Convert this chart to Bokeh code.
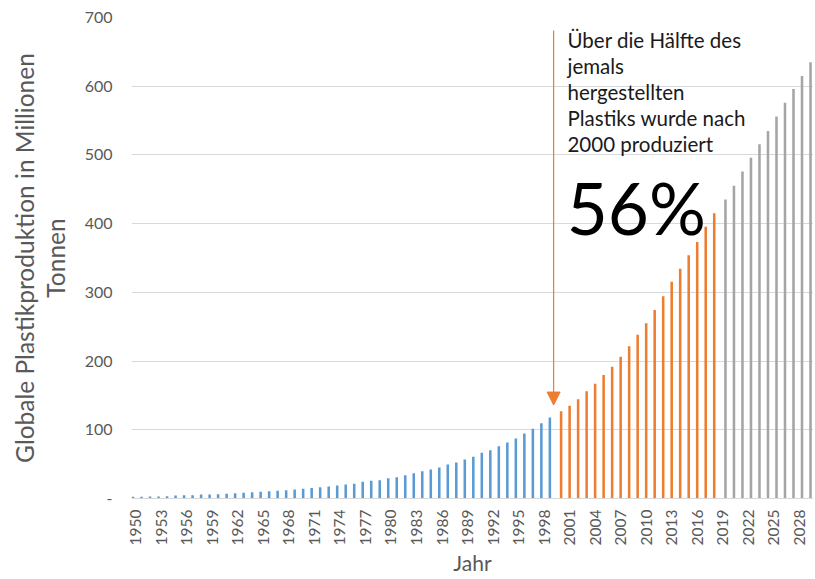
import math
from bokeh.plotting import figure
from bokeh.models import Range1d, FixedTicker, Arrow, NormalHead, ColumnDataSource
from bokeh.transform import dodge
from bokeh.core.properties import value
from bokeh.embed import file_html
from bokeh.resources import INLINE

# ---------------- data ----------------
blue_start = 1950
blue_values = [2.5, 2.7, 2.9, 3.0, 3.2, 4.3, 4.6, 4.8, 5.8, 6.0,
               6.3, 7.0, 7.6, 8.3, 9.0, 9.8, 10.5, 11.3, 12.1, 13.0,
               14.2, 15.2, 16.3, 17.5, 18.8, 20.2, 21.6, 24.3, 25.7, 26.7,
               29.6, 31.1, 34.0, 36.9, 39.8, 42.2, 45.1, 49.5, 52.4, 56.8,
               60.7, 66.5, 70.4, 76.2, 81.6, 87.4, 94.7, 101.5, 109.5, 118.0]
orange_start = 2000
orange_values = [127.0, 134.8, 144.4, 156.0, 167.1, 179.7, 191.8, 206.3, 221.7, 238.2,
                 255.1, 274.4, 294.2, 315.5, 334.3, 354.1, 373.4, 395.5, 415.0]
grey_start = 2019
grey_values = [435.0, 455.0, 476.0, 496.0, 515.5, 535.0, 556.0, 576.0, 596.0, 615.0, 635.0]

x_tick_years = list(range(1950, 2029, 3))
y_ticks = [0, 100, 200, 300, 400, 500, 600, 700]
y_tick_overrides = {0: "-"}

x_title = "Jahr"
y_title = "Globale Plastikproduktion in Millionen\nTonnen"
note_lines = ["Über die Hälfte des", "jemals", "hergestellten", "Plastiks wurde nach", "2000 produziert"]
big_number = "56%"

BLUE = "#5B9BD5"
ORANGE = "#ED7D31"
GREY = "#A5A5A5"
AXIS_TEXT = "#595959"
FONT = "Lato"

def src(start, vals):
    return ColumnDataSource(dict(year=list(range(start, start + len(vals))), value=vals))

p = figure(width=813, height=578, output_backend="svg", toolbar_location=None,
           x_range=Range1d(1949.5, 2029.67), y_range=Range1d(0, 700),
           min_border_left=131, min_border_right=0, min_border_top=17, min_border_bottom=80)
p.outline_line_color = None
p.background_fill_color = "white"
p.border_fill_color = "white"

# bars (three clustered series, dodged within each year)
p.vbar(x=dodge("year", -0.32), top="value", width=0.3, source=src(blue_start, blue_values),
       fill_color=BLUE, line_color=None)
p.vbar(x="year", top="value", width=0.3, source=src(orange_start, orange_values),
       fill_color=ORANGE, line_color=None)
p.vbar(x=dodge("year", 0.32), top="value", width=0.3, source=src(grey_start, grey_values),
       fill_color=GREY, line_color=None)

# x axis
xa = p.xaxis[0]
xa.ticker = FixedTicker(ticks=x_tick_years)
xa.major_label_orientation = math.pi / 2
xa.major_tick_out = 0
xa.major_tick_in = 0
xa.minor_tick_out = 0
xa.minor_tick_in = 0
xa.axis_line_color = "#d9d9d9"
xa.major_label_text_font = FONT
xa.major_label_text_font_size = "15.5px"
xa.major_label_text_color = AXIS_TEXT
xa.major_label_standoff = 11
xa.axis_label = x_title
xa.axis_label_text_font = FONT
xa.axis_label_text_font_size = "21px"
xa.axis_label_text_font_style = "normal"
xa.axis_label_text_color = AXIS_TEXT
xa.axis_label_standoff = 2
p.xgrid.visible = False

# y axis
ya = p.yaxis[0]
ya.ticker = FixedTicker(ticks=y_ticks)
ya.major_label_overrides = y_tick_overrides
ya.axis_line_color = None
ya.major_tick_out = 0
ya.major_tick_in = 0
ya.minor_tick_out = 0
ya.minor_tick_in = 0
ya.major_label_text_font = FONT
ya.major_label_text_font_size = "16px"
ya.major_label_text_color = AXIS_TEXT
ya.major_label_standoff = 19
ya.axis_label = y_title
ya.axis_label_text_font = FONT
ya.axis_label_text_font_size = "24.5px"
ya.axis_label_text_font_style = "normal"
ya.axis_label_text_color = AXIS_TEXT
ya.axis_label_text_line_height = 1.05
ya.axis_label_standoff = 12
p.ygrid.grid_line_color = "#d9d9d9"
p.ygrid.grid_line_width = 1

# annotation arrow
p.add_layout(Arrow(end=NormalHead(size=13, fill_color=ORANGE, line_color=ORANGE),
                   x_start=1999.12, y_start=681, x_end=1999.12, y_end=136,
                   line_color=ORANGE, line_width=1.2))

# annotation text
note_x = 2000.75
note_y0 = 667.0
note_step = 37.9
p.text(x=[note_x] * len(note_lines), y=[note_y0 - i * note_step for i in range(len(note_lines))],
       text=note_lines, text_font=value(FONT), text_font_size="20.5px", text_color="#1a1a1a",
       text_baseline="alphabetic", text_align="left")
p.text(x=[2000.65], y=[423], text=[big_number], text_font=value(FONT), text_font_size="71px",
       text_color="#000000", text_baseline="alphabetic", text_align="left")

open("out.html", "w").write(file_html(p, INLINE))
